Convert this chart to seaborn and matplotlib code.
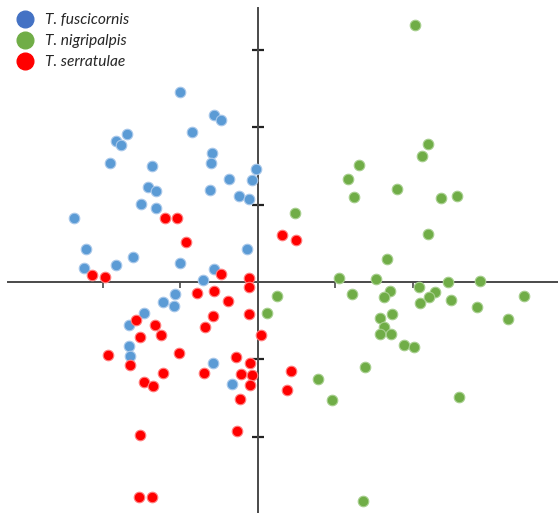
import numpy as np
import pandas as pd
import matplotlib
matplotlib.use('Agg')
import matplotlib.pyplot as plt
import seaborn as sns
from matplotlib.lines import Line2D

# PCA-like scores (one tick = 1 unit)
fusc_x = [-1.01, -0.57, -0.48, -1.69, -1.83, -1.77, -0.85, -0.59, -0.61, -0.02,
          -1.91, -1.37, -0.37, -0.08, -1.42, -1.32, -0.62, -0.24, -0.11, -1.51,
          -1.32, -2.37, -2.22, -1.61, -0.14, -2.25, -1.83, -1.01, -0.57, -0.71,
          -1.07, -1.22, -1.09, -1.47, -1.66, -1.67, -1.65, -0.58, -0.33]
fusc_y = [2.45, 2.15, 2.09, 1.91, 1.82, 1.77, 1.93, 1.67, 1.54, 1.46,
          1.54, 1.50, 1.33, 1.32, 1.23, 1.17, 1.19, 1.11, 1.07, 1.01,
          0.96, 0.83, 0.43, 0.32, 0.43, 0.18, 0.22, 0.25, 0.17, 0.03,
          -0.16, -0.26, -0.31, -0.40, -0.56, -0.83, -0.95, -1.05, -1.31]

nigr_x = [2.03, 2.19, 2.12, 1.30, 1.16, 1.79, 1.24, 2.36, 2.57, 0.48,
          2.19, 1.67, 1.04, 1.52, 2.08, 2.45, 2.87, 1.21, 1.70, 1.62,
          2.29, 2.21, 0.25, 3.43, 2.09, 2.49, 2.82, 0.12, 1.73, 1.57,
          3.22, 1.63, 1.58, 1.71, 1.88, 2.01, 1.38, 0.77, 0.95, 2.59, 1.35]
nigr_y = [3.32, 1.78, 1.63, 1.51, 1.33, 1.20, 1.10, 1.09, 1.11, 0.89,
          0.62, 0.30, 0.05, 0.04, -0.06, 0.00, 0.01, -0.15, -0.11, -0.19,
          -0.13, -0.19, -0.18, -0.18, -0.27, -0.23, -0.32, -0.40, -0.41, -0.47,
          -0.48, -0.58, -0.67, -0.67, -0.81, -0.84, -1.10, -1.25, -1.52, -1.48, -2.83]

serr_x = [-1.20, -1.05, -0.93, -2.14, -1.98, -0.48, -0.12, -0.12, -0.79, -0.57,
          -0.39, -0.11, -1.58, -1.33, -0.58, -0.68, -1.52, -1.25, 0.04, -1.93,
          -1.02, -0.29, -0.10, -1.65, -1.23, -0.70, -0.22, -0.08, -1.47, -1.36,
          -0.10, -0.23, -0.27, -1.52, -1.54, -1.37, 0.31, 0.49, 0.43, 0.38]
serr_y = [0.83, 0.83, 0.52, 0.09, 0.06, 0.10, 0.05, -0.07, -0.14, -0.12,
          -0.25, -0.41, -0.49, -0.56, -0.44, -0.58, -0.71, -0.69, -0.69, -0.94,
          -0.91, -0.97, -1.05, -1.07, -1.17, -1.18, -1.19, -1.20, -1.29, -1.34,
          -1.33, -1.51, -1.92, -1.98, -2.77, -2.78, 0.60, 0.54, -1.15, -1.40]

species = ['T. fuscicornis', 'T. nigripalpis', 'T. serratulae']
colors = ['#5b9bd5', '#70ad47', '#ff0000']
edges = ['#a9c8ea', '#a8cf8f', '#ff8080']
legend_colors = ['#4472c4', '#70ad47', '#ff0000']

df = pd.concat([
    pd.DataFrame({'x': fusc_x, 'y': fusc_y, 'species': species[0]}),
    pd.DataFrame({'x': nigr_x, 'y': nigr_y, 'species': species[1]}),
    pd.DataFrame({'x': serr_x, 'y': serr_y, 'species': species[2]}),
])

sns.set_style('white')
fig = plt.figure(figsize=(5.58, 5.13), dpi=100)
ax = fig.add_axes([0, 0, 1, 1])

for sp, c, e in zip(species, colors, edges):
    sns.scatterplot(data=df[df['species'] == sp], x='x', y='y', color=c,
                    edgecolor=e, linewidth=0.8, s=58, ax=ax, legend=False, zorder=3)

# axes crossing at the origin
ax.set_xlim(-3.329, 3.871)
ax.set_ylim(-2.981, 3.639)
for side in ['top', 'right']:
    ax.spines[side].set_visible(False)
ax.spines['left'].set_position(('data', 0))
ax.spines['bottom'].set_position(('data', 0))
ax.spines['bottom'].set_bounds(-3.226, 3.871)
ax.spines['left'].set_bounds(-2.981, 3.535)
for side in ['left', 'bottom']:
    ax.spines[side].set_color('#4a4a4a')
    ax.spines[side].set_linewidth(1.4)

ax.set_xticks([-2, -1, 1, 2])
ax.set_yticks([-2, -1, 1, 2, 3])
ax.tick_params(axis='x', direction='out', length=4, width=1.2, color='#4a4a4a',
               labelbottom=False, bottom=True)
ax.tick_params(axis='y', direction='inout', length=8, width=1.6, color='#222222',
               labelleft=False, left=True)
ax.set_xlabel('')
ax.set_ylabel('')

handles = [Line2D([], [], marker='o', linestyle='', markersize=12,
                  markerfacecolor=c, markeredgecolor=c, label=sp)
           for sp, c in zip(species, legend_colors)]
leg = ax.legend(handles=handles, loc='upper left', bbox_to_anchor=(0.012, 0.995),
                frameon=False, handlelength=1.0, handletextpad=0.75,
                labelspacing=0.45, borderpad=0.2,
                prop={'family': 'Lato', 'style': 'italic', 'size': 11.2})

fig.savefig('out.png', dpi=100)
